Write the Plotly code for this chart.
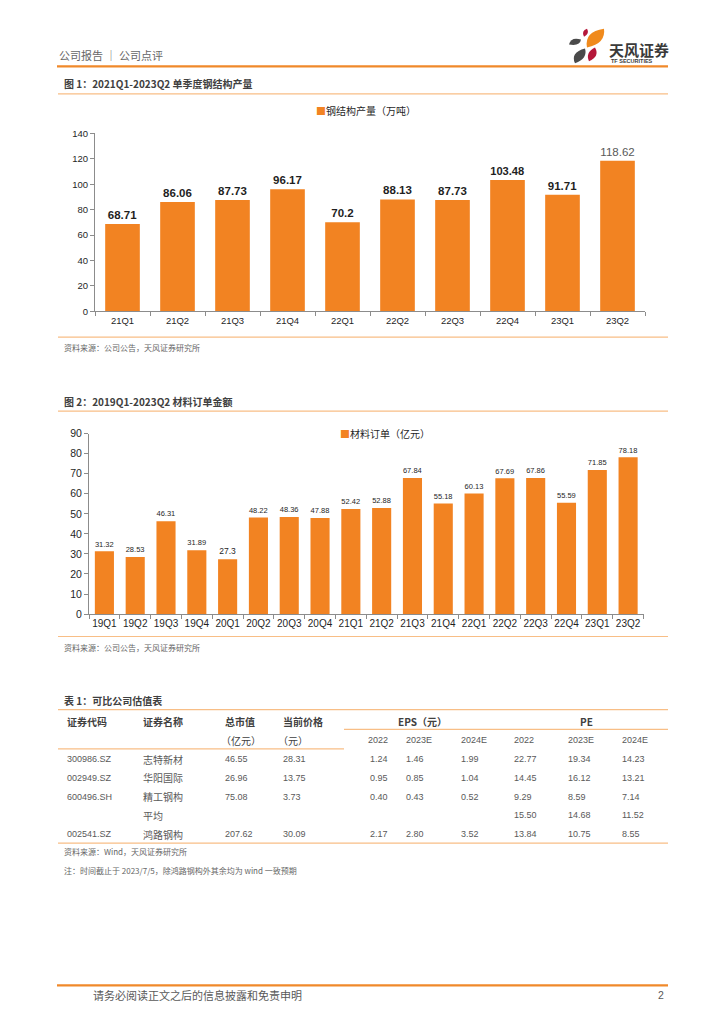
import plotly.graph_objects as go

W, H = 724, 1024

# ---------------- data ----------------
steel_cats = ["21Q1", "21Q2", "21Q3", "21Q4", "22Q1", "22Q2", "22Q3", "22Q4", "23Q1", "23Q2"]
steel_vals = [68.71, 86.06, 87.73, 96.17, 70.2, 88.13, 87.73, 103.48, 91.71, 118.62]

order_cats = ["19Q1", "19Q2", "19Q3", "19Q4", "20Q1", "20Q2", "20Q3", "20Q4", "21Q1", "21Q2",
              "21Q3", "21Q4", "22Q1", "22Q2", "22Q3", "22Q4", "23Q1", "23Q2"]
order_vals = [31.32, 28.53, 46.31, 31.89, 27.3, 48.22, 48.36, 47.88, 52.42, 52.88,
              67.84, 55.18, 60.13, 67.69, 67.86, 55.59, 71.85, 78.18]

steel_yticks = [0, 20, 40, 60, 80, 100, 120, 140]
order_yticks = [0, 10, 20, 30, 40, 50, 60, 70, 80, 90]

tbl_codes = ["300986.SZ", "002949.SZ", "600496.SH", "", "002541.SZ"]
tbl_names = ["志特新材", "华阳国际", "精工钢构", "平均", "鸿路钢构"]
tbl_mcap = ["46.55", "26.96", "75.08", "", "207.62"]
tbl_price = ["28.31", "13.75", "3.73", "", "30.09"]
tbl_eps22 = ["1.24", "0.95", "0.40", "", "2.17"]
tbl_eps23 = ["1.46", "0.85", "0.43", "", "2.80"]
tbl_eps24 = ["1.99", "1.04", "0.52", "", "3.52"]
tbl_pe22 = ["22.77", "14.45", "9.29", "15.50", "13.84"]
tbl_pe23 = ["19.34", "16.12", "8.59", "14.68", "10.75"]
tbl_pe24 = ["14.23", "13.21", "7.14", "11.52", "8.55"]
tbl_years = ["2022", "2023E", "2024E"]

# ---------------- styles ----------------
ORANGE = "#F28322"
LINE_OR = "#F0892A"
LIGHT_OR = "#F8BE86"
GRAY = "#595959"
DARK = "#1F1F1F"
FONT = "Liberation Sans, Noto Sans CJK SC, sans-serif"
CJK = "Noto Sans CJK SC, Liberation Sans, sans-serif"


def px(x):
    return x / W


def py(y):
    return 1 - y / H


fig = go.Figure()

# chart 1
steel_text = []
for i, v in enumerate(steel_vals):
    s = str(v)
    steel_text.append(s if i == len(steel_vals) - 1 else "<b>" + s + "</b>")
steel_colors = [DARK] * (len(steel_vals) - 1) + ["#595959"]

fig.add_trace(go.Bar(
    x=steel_cats, y=steel_vals, name="钢结构产量（万吨）",
    marker=dict(color=ORANGE, line=dict(width=0)),
    text=steel_text, textposition="outside", cliponaxis=False,
    textfont=dict(size=11.5, color=steel_colors, family=FONT),
    xaxis="x", yaxis="y", width=0.63, showlegend=False,
))

# chart 2
fig.add_trace(go.Bar(
    x=order_cats, y=order_vals, name="材料订单（亿元）",
    marker=dict(color=ORANGE, line=dict(width=0)),
    text=[str(v) for v in order_vals], textposition="outside", cliponaxis=False,
    textfont=dict(size=8.5, color=DARK, family=FONT),
    xaxis="x2", yaxis="y2", width=0.62, showlegend=False,
))


def axis_style(fs):
    return dict(showline=True, linecolor="#8C8C8C", linewidth=1, ticks="outside",
                tickcolor="#8C8C8C", ticklen=4, showgrid=False, zeroline=False,
                tickfont=dict(size=fs, color=DARK, family=FONT), fixedrange=True)


fig.update_layout(
    width=W, height=H, margin=dict(l=0, r=0, t=0, b=0),
    paper_bgcolor="white", plot_bgcolor="white",
    font=dict(family=CJK, color=DARK),
    showlegend=False,
    xaxis=dict(domain=[px(95), px(645)], anchor="y", type="category", tickangle=0,
               tickson="boundaries", **axis_style(9.5)),
    yaxis=dict(domain=[py(309), py(129)], anchor="x", range=[0, 140],
               tickvals=steel_yticks, **axis_style(9.5)),
    xaxis2=dict(domain=[px(89), px(643.5)], anchor="y2", type="category", tickangle=0,
                tickson="boundaries", **axis_style(10)),
    yaxis2=dict(domain=[py(615.3), py(432.7)], anchor="x2", range=[0, 90],
                tickvals=order_yticks, **axis_style(10.5)),
)

shapes = []
annos = []


def hline(y, x0, x1, color, w):
    shapes.append(dict(type="line", xref="paper", yref="paper", x0=px(x0), x1=px(x1),
                       y0=py(y), y1=py(y), line=dict(color=color, width=w)))


def text(x, y, s, size=9, color=GRAY, anchor="left", family=CJK, bold=False):
    if bold:
        s = "<b>" + s + "</b>"
    annos.append(dict(x=px(x), y=py(y), xref="paper", yref="paper", text=s,
                      showarrow=False, xanchor=anchor, yanchor="middle",
                      font=dict(size=size, color=color, family=family)))


def legend_box(xc, y, label):
    annos.append(dict(x=px(xc), y=py(y), xref="paper", yref="paper",
                      text=f"<span style='color:{ORANGE}'>■</span>{label}",
                      showarrow=False, xanchor="center", yanchor="middle",
                      font=dict(size=10, color=DARK, family=CJK)))


# header
text(57, 50, "公司报告 ｜ 公司点评", size=11, color="#666666")
hline(61, 57, 668, LINE_OR, 2.2)
text(607, 44, "天风证券", size=15, color="#3A3A3A", bold=True)
text(609, 56, "TF SECURITIES", size=5.5, color="#3A3A3A", family=FONT, bold=True)


def leaf(a, b, c1, c2, color):
    P = lambda p: f"{px(p[0])},{py(p[1])}"
    path = f"M {P(a)} Q {P(c1)} {P(b)} Q {P(c2)} {P(a)} Z"
    shapes.append(dict(type="path", xref="paper", yref="paper", path=path,
                       fillcolor=color, line=dict(width=0)))


leaf((584, 31), (587, 23), (581, 25), (590, 28), "#B5173A")
leaf((587, 42), (604, 23), (584, 26), (606, 38), "#F08A1C")
leaf((569, 39), (581, 34), (571, 31), (580, 41), "#4A4A4A")
leaf((575, 58), (585, 43), (570, 47), (588, 53), "#4A4A4A")
leaf((589, 56), (595, 42), (585, 47), (600, 51), "#B5173A")

# chart 1 title, legend & source
text(62, 78, "图 1：2021Q1-2023Q2 单季度钢结构产量", size=10, color="#404040", bold=True)
hline(89, 58, 668, LIGHT_OR, 1.2)
legend_box(366, 106, "钢结构产量（万吨）")
hline(335, 58, 668, LIGHT_OR, 1.2)
text(62, 346, "资料来源：公司公告，天风证券研究所", size=8, color="#666666")

# chart 2 title, legend & source
text(62, 400, "图 2：2019Q1-2023Q2 材料订单金额", size=10, color="#404040", bold=True)
hline(410, 58, 668, LIGHT_OR, 1.2)
legend_box(385, 433, "材料订单（亿元）")
hline(638, 58, 668, LIGHT_OR, 1.2)
text(62, 649, "资料来源：公司公告，天风证券研究所", size=8, color="#666666")

# table
text(62, 702.5, "表 1：可比公司估值表", size=10, color="#404040", bold=True)
hline(712, 58, 668, LIGHT_OR, 1.2)
hdr_y1, hdr_y2 = 724, 743
text(65, hdr_y1, "证券代码", size=10, color="#404040", bold=True)
text(141, hdr_y1, "证券名称", size=10, color="#404040", bold=True)
text(223, hdr_y1, "总市值", size=10, color="#404040", bold=True)
text(281, hdr_y1, "当前价格", size=10, color="#404040", bold=True)
text(422, hdr_y1, "EPS（元）", size=10, color="#404040", anchor="center", bold=True)
text(586, hdr_y1, "PE", size=10, color="#404040", anchor="center", bold=True)
text(219, hdr_y2, "（亿元）", size=10, color="#404040")
text(276, hdr_y2, "（元）", size=10, color="#404040")
hline(732, 344, 668, LIGHT_OR, 1.2)
hline(751.7, 58, 344, LIGHT_OR, 1.2)

year_x = [(390, "right"), (404, "left"), (459, "left"), (512, "left"), (566, "left"), (620, "left")]
for (x, a), yr in zip(year_x, tbl_years + tbl_years):
    text(x, hdr_y2, yr, size=9, color="#595959", anchor=a, family=FONT)

row_y = [762, 781, 800, 819, 838]
cols = [(65, "left", tbl_codes, FONT), (141, "left", tbl_names, CJK),
        (223, "left", tbl_mcap, FONT), (281, "left", tbl_price, FONT),
        (390, "right", tbl_eps22, FONT), (404, "left", tbl_eps23, FONT),
        (459, "left", tbl_eps24, FONT), (512, "left", tbl_pe22, FONT),
        (566, "left", tbl_pe23, FONT), (620, "left", tbl_pe24, FONT)]
for x, a, vals, fam in cols:
    for y, v in zip(row_y, vals):
        if v:
            text(x, y, v, size=9 if fam == FONT else 10, color="#595959", anchor=a, family=fam)
hline(847, 58, 668, LIGHT_OR, 1.2)
text(62, 856, "资料来源：Wind，天风证券研究所", size=8, color="#666666")
text(62, 875, "注：时间截止于 2023/7/5，除鸿路钢构外其余均为 wind 一致预期", size=8, color="#666666")

# footer
hline(991, 57, 668, LINE_OR, 2.2)
text(91, 1001, "请务必阅读正文之后的信息披露和免责申明", size=11, color="#595959")
text(666, 1001, "2", size=10.5, color="#595959", anchor="right", family=FONT)

fig.update_layout(shapes=shapes, annotations=annos)
fig.write_html("out.html", config={"displayModeBar": False},
               post_script="document.body.style.margin='0';document.body.style.padding='0';")
